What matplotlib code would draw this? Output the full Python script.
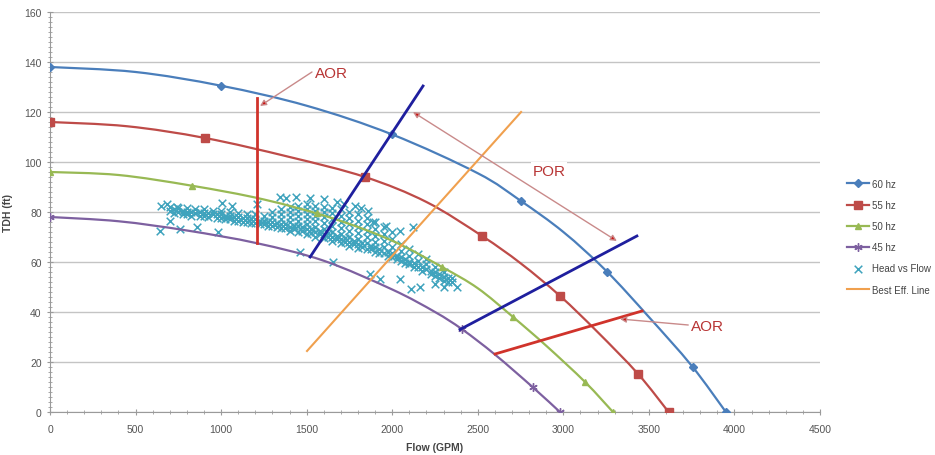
import matplotlib
matplotlib.use("Agg")
import matplotlib.pyplot as plt
from matplotlib.ticker import MultipleLocator
from matplotlib.path import Path
from matplotlib.patches import PathPatch

plt.rcParams['font.family'] = ['Liberation Sans Narrow', 'Liberation Sans', 'DejaVu Sans']

# ---- pump curves ----
hz60_q = [0, 500, 1000, 1500, 2000, 2500, 2750, 3000, 3250, 3500, 3750, 3950]
hz60_h = [138, 136, 130.5, 122.5, 111, 95.5, 84.5, 72, 56.5, 38, 18.5, 0]
hz60_mq = [0, 1000, 2000, 2750, 3255, 3758, 3950]
hz60_mh = [138, 130.5, 111, 84.5, 56, 18, 0]

hz55_q = [0, 450, 906, 1400, 1841, 2200, 2525, 2750, 2981, 3200, 3437, 3615]
hz55_h = [116, 114.3, 109.6, 102, 94, 84, 70.4, 59.5, 46.4, 32, 15.2, 0]
hz55_mq = [0, 906, 1841, 2525, 2981, 3437, 3615]
hz55_mh = [116, 109.6, 94, 70.4, 46.4, 15.2, 0]

hz50_q = [0, 400, 830, 1250, 1650, 2000, 2291, 2500, 2706, 2900, 3127, 3290]
hz50_h = [96, 94.8, 90.5, 85, 77.5, 68.5, 58, 49.5, 38, 26.5, 12, 0]
hz50_mq = [0, 830, 1560, 2291, 2706, 3127, 3290]
hz50_mh = [96, 90.5, 79.5, 58, 38, 12, 0]

hz45_q = [0, 400, 800, 1210, 1600, 2000, 2250, 2410, 2600, 2820, 2980]
hz45_h = [78, 76.3, 72.6, 67.5, 60.5, 49, 40, 33, 23, 10, 0]
hz45_mq = [0, 2410, 2820, 2980]
hz45_mh = [78, 33, 10, 0]

# ---- measured head vs flow (scatter) ----
head_vs_flow_points = [
    (650, 82.5), (700, 82), (700, 80.5), (750, 81.5), (750, 80), (800, 81.5), (800, 80), (800, 79),
    (850, 81), (850, 79.5), (900, 81), (900, 79.5), (900, 78.5), (950, 80.5), (950, 79),
    (1000, 80.5), (1000, 79), (1000, 77.5), (1050, 80), (1050, 78.5), (1050, 77),
    (1100, 79.5), (1100, 78), (1100, 76.5), (1150, 79), (1150, 77.5), (1150, 76),
    (1200, 79), (1200, 77), (1200, 75.5), (1250, 78.5), (1250, 76.5), (1250, 75),
    (1300, 80), (1300, 78), (1300, 76), (1300, 74.5),
    (1350, 81), (1350, 79), (1350, 77), (1350, 75), (1350, 73.5),
    (1400, 82), (1400, 80), (1400, 78), (1400, 76), (1400, 74), (1400, 72.5),
    (1450, 82.5), (1450, 80.5), (1450, 78.5), (1450, 76.5), (1450, 74.5), (1450, 72),
    (1500, 83), (1500, 81), (1500, 79), (1500, 77), (1500, 75), (1500, 73), (1500, 71),
    (1550, 82.5), (1550, 80.5), (1550, 78.5), (1550, 76.5), (1550, 74), (1550, 72), (1550, 70),
    (1600, 82), (1600, 80), (1600, 78), (1600, 75.5), (1600, 73), (1600, 71), (1600, 69.5),
    (1650, 81.5), (1650, 79.5), (1650, 77), (1650, 74.5), (1650, 72), (1650, 70), (1650, 68.5),
    (1700, 81), (1700, 78.5), (1700, 76), (1700, 73.5), (1700, 71), (1700, 69), (1700, 67.5),
    (1750, 80), (1750, 77.5), (1750, 75), (1750, 72.5), (1750, 70), (1750, 68), (1750, 66.5),
    (1800, 79), (1800, 76.5), (1800, 74), (1800, 71.5), (1800, 69), (1800, 67), (1800, 65.5),
    (1850, 77.5), (1850, 75), (1850, 72.5), (1850, 70), (1850, 67.5), (1850, 65),
    (1900, 76), (1900, 73), (1900, 70.5), (1900, 68), (1900, 66), (1900, 64),
    (1950, 74), (1950, 71), (1950, 68.5), (1950, 66), (1950, 63.5),
    (2000, 72), (2000, 69), (2000, 66), (2000, 63.5), (2000, 62),
    (2050, 67), (2050, 64.5), (2050, 62), (2050, 60.5),
    (2100, 65), (2100, 62.5), (2100, 60), (2100, 59),
    (2150, 63), (2150, 60.5), (2150, 58), (2200, 61), (2200, 59), (2200, 57),
    (2250, 58), (2250, 56), (2250, 54.5), (2300, 56), (2300, 54), (2300, 52.5),
    (2350, 53.5), (2350, 52),
    (725, 81), (775, 80.5), (825, 80), (875, 80), (925, 79.5), (975, 79), (1025, 78.5),
    (1075, 78), (1125, 77.5), (1175, 77), (1225, 76.5), (1275, 76), (1325, 75.5), (1375, 75),
    (1425, 74.5), (1475, 74), (1525, 73), (1575, 72.5), (1625, 71.5), (1675, 70.5), (1725, 69.5),
    (1775, 68.5), (1825, 67.5), (1875, 66.5), (1925, 65), (1975, 64), (2025, 62.5), (2075, 61),
    (2125, 59.5), (2175, 58), (2225, 56.5), (2275, 55), (2325, 53.5),
    (725, 79.5), (775, 79), (825, 78.5), (875, 78.5), (925, 78), (975, 77.5), (1025, 77),
    (1075, 76.5), (1125, 76), (1175, 75.5), (1225, 75), (1275, 74.5), (1325, 74), (1375, 73.5),
    (1425, 73), (1475, 72.5), (1525, 71.5), (1575, 71), (1625, 70), (1675, 69), (1725, 68),
    (1775, 67), (1825, 66), (1875, 65), (1925, 63.5), (1975, 62.5), (2025, 61), (2075, 59.5),
    (2125, 58), (2175, 56.5), (2225, 55), (2275, 53.5), (2325, 52),
    # scattered readings
    (684, 83), (743, 82), (1005, 83.5), (1064, 82.5), (701, 76.4), (643, 72.4), (760, 73),
    (858, 74), (982, 72), (1344, 86), (1210, 83), (1890, 76), (1965, 74.5), (2045, 72.5),
    (1461, 64), (1654, 60), (1870, 55), (1929, 53), (2045, 53), (2162, 50), (2379, 50),
    (2110, 49), (2250, 51), (2300, 50), (1380, 85.5), (1440, 86), (1520, 85.5), (1600, 85),
    (1680, 84), (1720, 83), (1780, 82.5), (1820, 81.5), (1860, 80.5), (2120, 74),
]
hv_q = [p[0] for p in head_vs_flow_points]
hv_h = [p[1] for p in head_vs_flow_points]

# ---- best efficiency line ----
bep_q = [1502, 2753]
bep_h = [24.4, 120]

# ---- operating region lines ----
aor_left_q = [1210, 1210]
aor_left_h = [67.5, 125.5]
por_upper_q = [1520, 2180]
por_upper_h = [62, 130.4]
por_lower_q = [2396, 3430]
por_lower_h = [33, 70.4]
aor_right_q = [2601, 3460]
aor_right_h = [23.2, 40.4]

x_ticks = [0, 500, 1000, 1500, 2000, 2500, 3000, 3500, 4000, 4500]
y_ticks = [0, 20, 40, 60, 80, 100, 120, 140, 160]

c60 = '#4a7ebb'
c55 = '#be4b48'
c50 = '#98b954'
c45 = '#7d60a0'
chv = '#3fa3bd'
cbep = '#f0a04e'
cnavy = '#1f1f9e'
cred = '#d0332b'
carrow = '#c98a8a'
ctext = '#b83535'

fig = plt.figure(figsize=(9.35, 4.56), dpi=100)
ax = fig.add_axes([0.0535, 0.0943, 0.8235, 0.8772])

ax.set_xlim(0, 4500)
ax.set_ylim(0, 160)
ax.set_xticks(x_ticks)
ax.set_yticks(y_ticks)
ax.xaxis.set_minor_locator(MultipleLocator(100))
ax.yaxis.set_minor_locator(MultipleLocator(2))
ax.grid(axis='y', color='#c4c4c4', lw=1)
ax.set_axisbelow(True)

ax.scatter(hv_q, hv_h, marker='x', s=30, color=chv, linewidths=1.1, zorder=3, label='Head vs Flow')


def smooth_path(q, h):
    """Excel-style smoothed line through the given points (Catmull-Rom as Bezier)."""
    pts = list(zip(q, h))
    n = len(pts)
    verts = [pts[0]]
    codes = [Path.MOVETO]
    for i in range(n - 1):
        p0 = pts[i - 1] if i > 0 else pts[i]
        p1 = pts[i]
        p2 = pts[i + 1]
        p3 = pts[i + 2] if i + 2 < n else pts[i + 1]
        c1 = (p1[0] + (p2[0] - p0[0]) / 6.0, p1[1] + (p2[1] - p0[1]) / 6.0)
        c2 = (p2[0] - (p3[0] - p1[0]) / 6.0, p2[1] - (p3[1] - p1[1]) / 6.0)
        verts += [c1, c2, p2]
        codes += [Path.CURVE4, Path.CURVE4, Path.CURVE4]
    return Path(verts, codes)


def curve(q, h, mq, mh, color, marker, ms, label):
    ax.add_patch(PathPatch(smooth_path(q, h), facecolor='none', edgecolor=color, lw=1.6, zorder=4))
    ax.plot(mq, mh, color=color, lw=0, marker=marker, ms=ms, zorder=5)
    ax.plot([], [], color=color, lw=1.6, marker=marker, ms=ms, label=label)

curve(hz60_q, hz60_h, hz60_mq, hz60_mh, c60, 'D', 4, '60 hz')
curve(hz55_q, hz55_h, hz55_mq, hz55_mh, c55, 's', 6, '55 hz')
curve(hz50_q, hz50_h, hz50_mq, hz50_mh, c50, '^', 5, '50 hz')
curve(hz45_q, hz45_h, hz45_mq, hz45_mh, c45, (6, 2, 0), 6, '45 hz')

ax.plot(bep_q, bep_h, color=cbep, lw=1.5, zorder=4, label='Best Eff. Line')

ax.plot(aor_left_q, aor_left_h, color=cred, lw=2, zorder=6)
ax.plot(aor_right_q, aor_right_h, color=cred, lw=2, zorder=6)
ax.plot(por_upper_q, por_upper_h, color=cnavy, lw=2, zorder=6)
ax.plot(por_lower_q, por_lower_h, color=cnavy, lw=2, zorder=6)

ann_font = dict(family=['Liberation Sans', 'DejaVu Sans'], fontsize=11, color=ctext)
ax.annotate('', xy=(1227, 122.4), xytext=(1531, 136),
            arrowprops=dict(arrowstyle='-|>', edgecolor=carrow, facecolor='#cc1111',
                            lw=1, mutation_scale=9, shrinkA=0, shrinkB=0), zorder=7)
ax.text(1550, 135.5, 'AOR', ha='left', va='center', zorder=8, **ann_font)

ax.annotate('', xy=(3313, 68.4), xytext=(2121, 120),
            arrowprops=dict(arrowstyle='<|-|>', edgecolor=carrow, facecolor='#cc1111',
                            lw=1, mutation_scale=9, shrinkA=0, shrinkB=0), zorder=7)
ax.text(2820, 96.5, 'POR', ha='left', va='center', zorder=8,
        bbox=dict(facecolor='white', edgecolor='none', pad=1), **ann_font)

ax.annotate('', xy=(3331, 37.2), xytext=(3730, 34.8),
            arrowprops=dict(arrowstyle='-|>', edgecolor=carrow, facecolor='#cc1111',
                            lw=1, mutation_scale=9, shrinkA=0, shrinkB=0), zorder=7)
ax.text(3745, 34.5, 'AOR', ha='left', va='center', zorder=8, **ann_font)

for s in ['top', 'right']:
    ax.spines[s].set_visible(False)
for s in ['left', 'bottom']:
    ax.spines[s].set_color('#9a9a9a')
ax.tick_params(which='both', direction='inout', colors='#9a9a9a', labelcolor='#555555', labelsize=7.5)
ax.tick_params(which='major', length=5)
ax.tick_params(which='minor', length=3)
ax.tick_params(axis='x', pad=6)
ax.set_xlabel('Flow (GPM)', fontsize=7.5, fontweight='bold', color='#444444', labelpad=6)
ax.set_ylabel('TDH (ft)', fontsize=7.5, fontweight='bold', color='#444444', labelpad=8)

handles, labels = ax.get_legend_handles_labels()
order = ['60 hz', '55 hz', '50 hz', '45 hz', 'Head vs Flow', 'Best Eff. Line']
hmap = dict(zip(labels, handles))
leg = fig.legend([hmap[l] for l in order], order, loc='upper left',
                 bbox_to_anchor=(0.897, 0.625), frameon=False, fontsize=7,
                 handlelength=2.2, labelspacing=1.15, handletextpad=0.3)
for t in leg.get_texts():
    t.set_color('#444444')

fig.savefig('out.png', dpi=100, facecolor='white')
